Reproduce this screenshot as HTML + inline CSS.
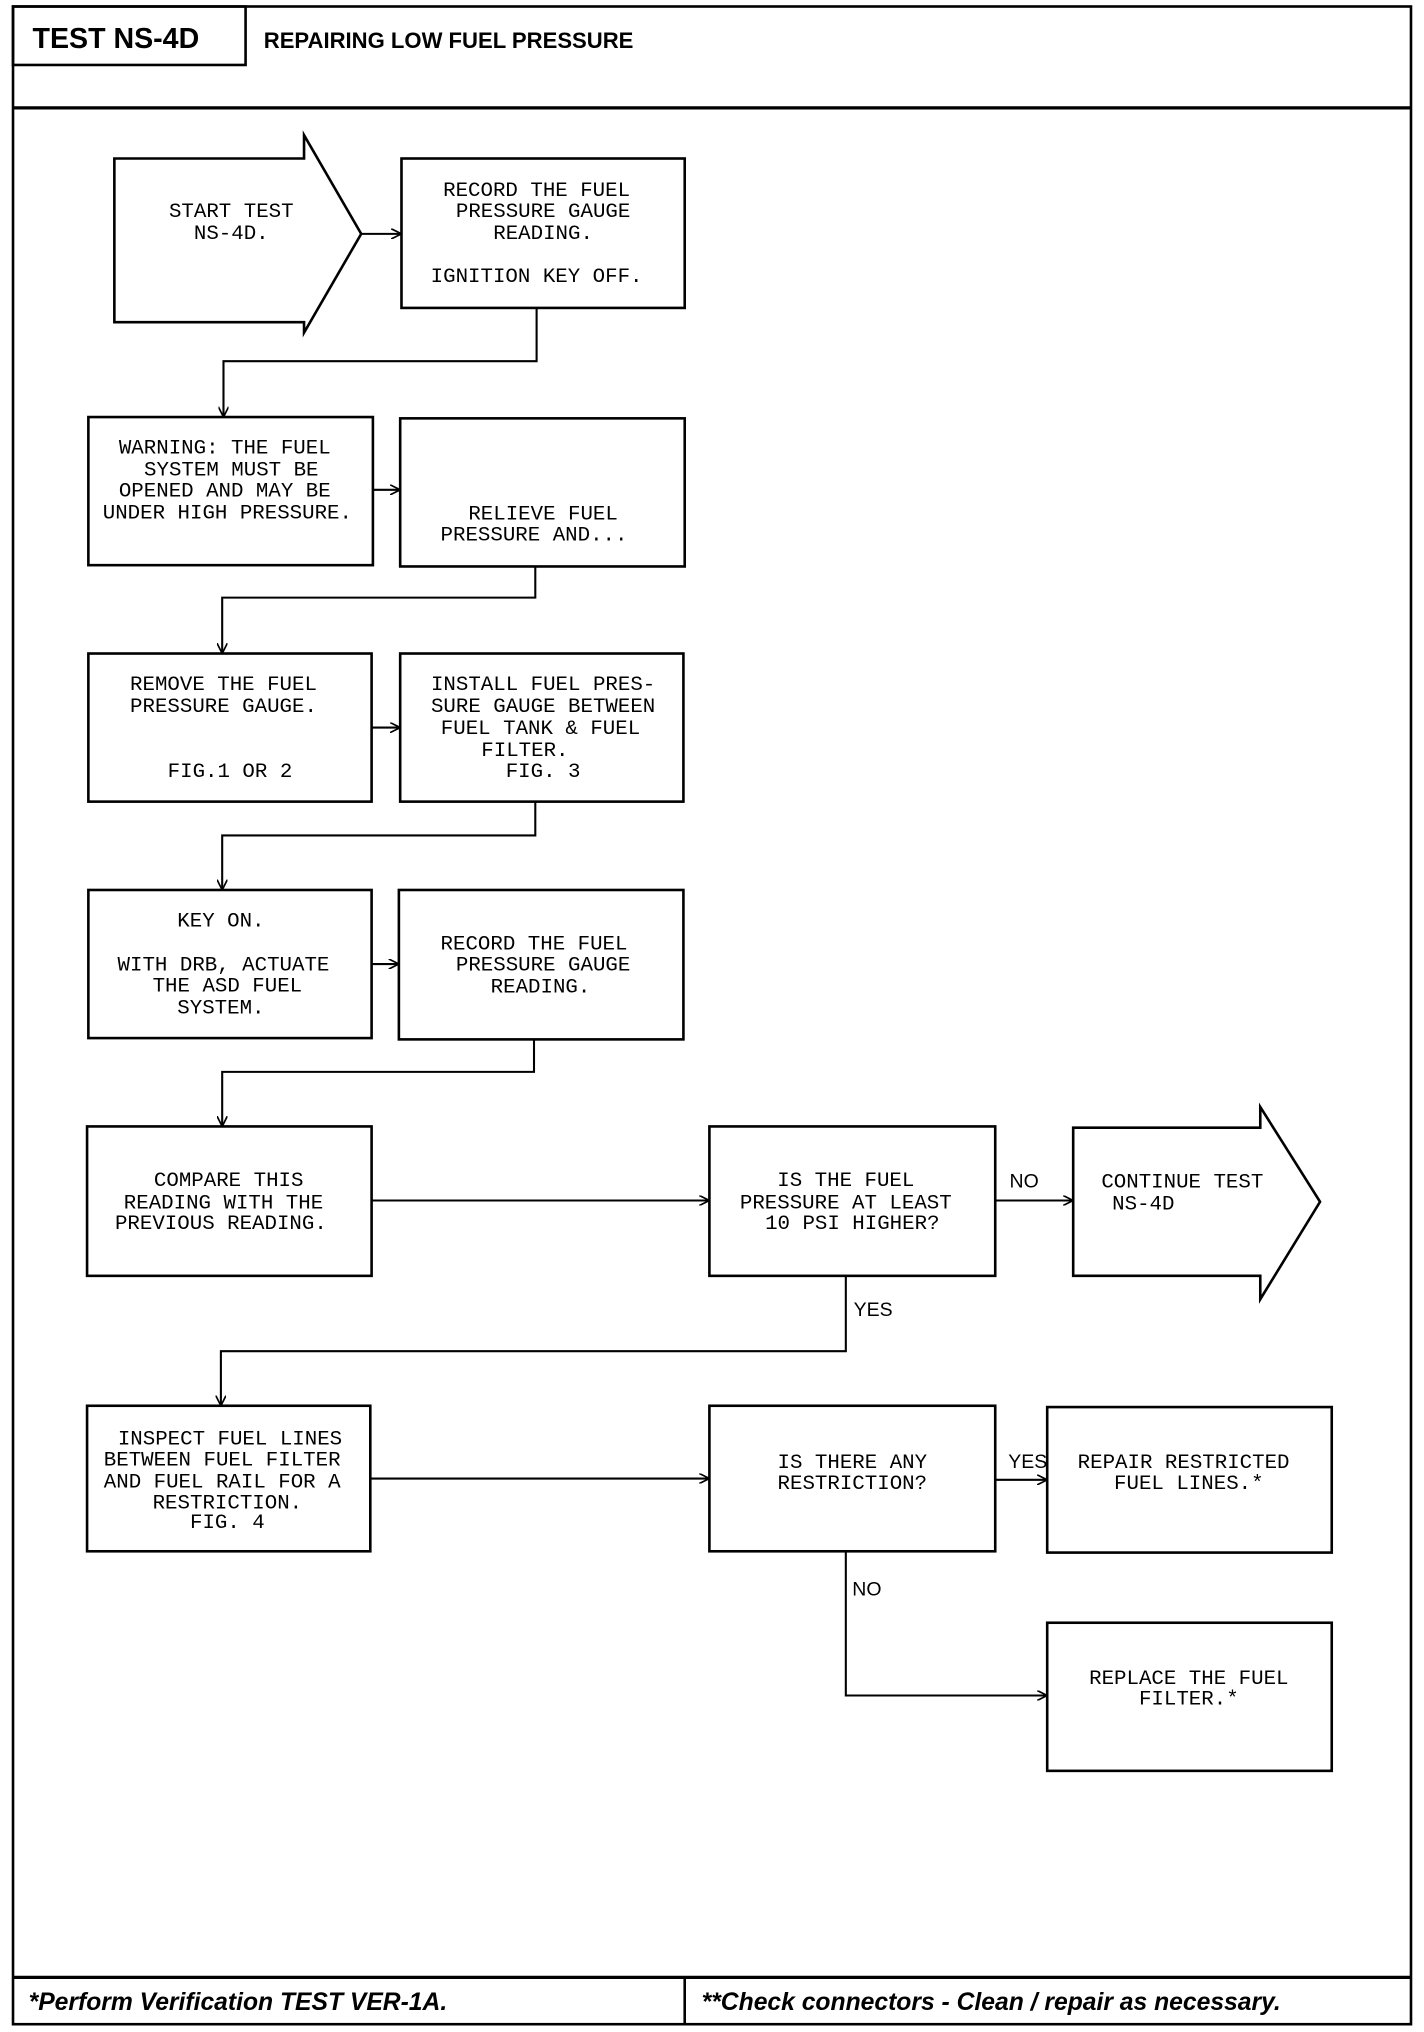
<!DOCTYPE html>
<html><head><meta charset="utf-8"><style>html,body{margin:0;padding:0;background:#fff}svg{display:block}</style></head><body>
<svg width="1424" height="2032" viewBox="0 0 1096 1564" xmlns="http://www.w3.org/2000/svg">
<defs><marker id="a" markerWidth="8" markerHeight="8" refX="7" refY="4" orient="auto" markerUnits="userSpaceOnUse"><path d="M0,0 L8,4 L0,8" fill="none" stroke="#000" stroke-width="1.3"/></marker></defs>
<g fill="none" stroke="#000" stroke-width="2">
<rect x="10" y="5" width="1076" height="1553"/>
<rect x="10" y="5" width="179" height="45"/>
<line x1="10" y1="83" x2="1086" y2="83" stroke-width="2.5"/>
<line x1="10" y1="1522" x2="1086" y2="1522" stroke-width="2.5"/>
<line x1="527" y1="1522" x2="527" y2="1558"/>
<path d="M88,122 H234 V104 L278,180 L234,256 V248 H88 Z"/>
<rect x="309" y="122" width="218" height="115"/>
<rect x="68" y="321" width="219" height="114"/>
<rect x="308" y="322" width="219" height="114"/>
<rect x="68" y="503" width="218" height="114"/>
<rect x="308" y="503" width="218" height="114"/>
<rect x="68" y="685" width="218" height="114"/>
<rect x="307" y="685" width="219" height="115"/>
<rect x="67" y="867" width="219" height="115"/>
<rect x="546" y="867" width="220" height="115"/>
<path d="M826,868 H970 V852 L1016,925 L970,1000 V982 H826 Z"/>
<rect x="67" y="1082" width="218" height="112"/>
<rect x="546" y="1082" width="220" height="112"/>
<rect x="806" y="1083" width="219" height="112"/>
<rect x="806" y="1249" width="219" height="114"/>
</g>
<g fill="none" stroke="#000" stroke-width="1.6">
<path d="M278,180 H308" marker-end="url(#a)"/>
<path d="M413,237 V278 H172 V320" marker-end="url(#a)"/>
<path d="M287,377 H307" marker-end="url(#a)"/>
<path d="M412,436 V460 H171 V502" marker-end="url(#a)"/>
<path d="M286,560 H307" marker-end="url(#a)"/>
<path d="M412,617 V643 H171 V684" marker-end="url(#a)"/>
<path d="M286,742 H306" marker-end="url(#a)"/>
<path d="M411,800 V825 H171 V866" marker-end="url(#a)"/>
<path d="M286,924 H545" marker-end="url(#a)"/>
<path d="M766,924 H825" marker-end="url(#a)"/>
<path d="M651,982 V1040 H170 V1081" marker-end="url(#a)"/>
<path d="M285,1138 H545" marker-end="url(#a)"/>
<path d="M766,1139 H805" marker-end="url(#a)"/>
<path d="M651,1194 V1305 H805" marker-end="url(#a)"/>
</g>
<g font-family="Liberation Sans, sans-serif" font-weight="bold">
<text x="25" y="37" font-size="22">TEST NS-4D</text>
<text x="203" y="37" font-size="17">REPAIRING LOW FUEL PRESSURE</text>
<text x="22" y="1547" font-size="19" font-style="italic">*Perform Verification TEST VER-1A.</text>
<text x="540" y="1547" font-size="19" font-style="italic">**Check connectors - Clean / repair as necessary.</text>
</g>
<g font-family="Liberation Sans, sans-serif" font-size="15">
<text x="777" y="914">NO</text>
<text x="657" y="1013">YES</text>
<text x="776" y="1130">YES</text>
<text x="656" y="1228">NO</text>
</g>
<g font-family="Liberation Mono, monospace" font-size="16" text-anchor="middle">
<text x="178" y="167">START TEST</text><text x="178" y="184">NS-4D.</text>
<text x="413" y="151">RECORD THE FUEL</text><text x="418" y="167">PRESSURE GAUGE</text><text x="418" y="184">READING.</text><text x="413" y="217">IGNITION KEY OFF.</text>
<text x="173" y="349">WARNING: THE FUEL</text><text x="178" y="366">SYSTEM MUST BE</text><text x="173" y="382">OPENED AND MAY BE</text><text x="175" y="399">UNDER HIGH PRESSURE.</text>
<text x="418" y="400">RELIEVE FUEL</text><text x="411" y="416">PRESSURE AND...</text>
<text x="172" y="531">REMOVE THE FUEL</text><text x="172" y="548">PRESSURE GAUGE.</text><text x="177" y="598">FIG.1 OR 2</text>
<text x="418" y="531">INSTALL FUEL PRES-</text><text x="418" y="548">SURE GAUGE BETWEEN</text><text x="416" y="565">FUEL TANK &amp; FUEL</text><text x="404" y="582">FILTER.</text><text x="418" y="598">FIG. 3</text>
<text x="170" y="713">KEY ON.</text><text x="172" y="747">WITH DRB, ACTUATE</text><text x="175" y="763">THE ASD FUEL</text><text x="170" y="780">SYSTEM.</text>
<text x="411" y="731">RECORD THE FUEL</text><text x="418" y="747">PRESSURE GAUGE</text><text x="416" y="764">READING.</text>
<text x="176" y="913">COMPARE THIS</text><text x="172" y="930">READING WITH THE</text><text x="170" y="946">PREVIOUS READING.</text>
<text x="651" y="913">IS THE FUEL</text><text x="651" y="930">PRESSURE AT LEAST</text><text x="656" y="946">10 PSI HIGHER?</text>
<text x="910" y="914">CONTINUE TEST</text><text x="880" y="931">NS-4D</text>
<text x="177" y="1112">INSPECT FUEL LINES</text><text x="171" y="1128">BETWEEN FUEL FILTER</text><text x="171" y="1145">AND FUEL RAIL FOR A</text><text x="175" y="1161">RESTRICTION.</text><text x="175" y="1176">FIG. 4</text>
<text x="656" y="1130">IS THERE ANY</text><text x="656" y="1146">RESTRICTION?</text>
<text x="911" y="1130">REPAIR RESTRICTED</text><text x="915" y="1146">FUEL LINES.*</text>
<text x="915" y="1296">REPLACE THE FUEL</text><text x="915" y="1312">FILTER.*</text>
</g>
</svg>
</body></html>
